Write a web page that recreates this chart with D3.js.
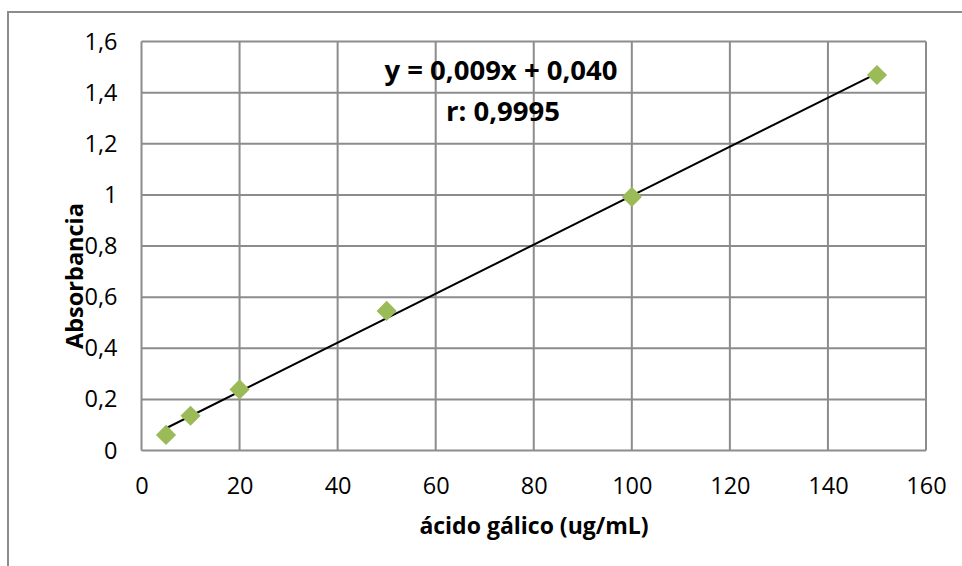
<!DOCTYPE html>
<html>
<head>
<meta charset="utf-8">
<script src="https://cdn.jsdelivr.net/npm/d3@7"></script>
<style>
    body { margin: 0; background: #fff; }
    svg { display: block; font-family: "Open Sans", sans-serif; }
</style>
</head>
<body>
<div id="chart"></div>
<script>
// valores
var concentracion = [5, 10, 20, 50, 100, 150];
var absorbancia = [0.061, 0.136, 0.239, 0.546, 0.992, 1.469];
var xTicks = [0, 20, 40, 60, 80, 100, 120, 140, 160];
var yTicks = [0, 0.2, 0.4, 0.6, 0.8, 1, 1.2, 1.4, 1.6];
var ecuacion = 'y = 0,009x + 0,040';
var coefR = 'r: 0,9995';

var W = 962, H = 566;
var margin = {left: 141.5, top: 41.5, right: 962 - 926, bottom: 566 - 450.5};

var svg = d3.select('#chart').append('svg')
    .attr('width', W)
    .attr('height', H);

// marco exterior
svg.append('rect')
    .attr('x', 8).attr('y', 12)
    .attr('width', W + 10).attr('height', H)
    .attr('fill', 'none')
    .attr('stroke', '#8c8c8c')
    .attr('stroke-width', 2);

var x = d3.scaleLinear().domain([0, 160]).range([margin.left, W - margin.right]);
var y = d3.scaleLinear().domain([0, 1.6]).range([H - margin.bottom, margin.top]);
var coma = d => String(d).replace('.', ',');

// rejilla
var grid = svg.append('g').attr('stroke', '#8c8c8c').attr('stroke-width', 2);
grid.selectAll('line.v').data(xTicks).enter().append('line')
    .attr('class', 'v')
    .attr('x1', d => x(d)).attr('x2', d => x(d))
    .attr('y1', y(0)).attr('y2', y(1.6));
grid.selectAll('line.h').data(yTicks).enter().append('line')
    .attr('class', 'h')
    .attr('x1', x(0)).attr('x2', x(160))
    .attr('y1', d => y(d)).attr('y2', d => y(d));

// ejes (solo etiquetas)
var xAxis = svg.append('g')
    .attr('transform', `translate(0, ${y(0)})`)
    .call(d3.axisBottom(x).tickValues(xTicks).tickFormat(coma).tickSize(0).tickPadding(27));
var yAxis = svg.append('g')
    .attr('transform', `translate(${x(0)}, 0)`)
    .call(d3.axisLeft(y).tickValues(yTicks).tickFormat(coma).tickSize(0).tickPadding(24));
[xAxis, yAxis].forEach(a => {
    a.select('.domain').remove();
    a.selectAll('text')
        .attr('font-family', '"Open Sans", sans-serif')
        .attr('font-size', 23.5)
        .attr('fill', '#000');
});

// recta de regresión
var mx = d3.mean(concentracion), my = d3.mean(absorbancia);
var sxy = d3.sum(concentracion, (c, i) => (c - mx) * (absorbancia[i] - my));
var sxx = d3.sum(concentracion, c => (c - mx) * (c - mx));
var pendiente = sxy / sxx;
var corte = my - pendiente * mx;
var extremos = d3.extent(concentracion);

svg.append('path')
    .datum(extremos)
    .attr('fill', 'none')
    .attr('stroke', '#000')
    .attr('stroke-width', 2)
    .attr('d', d3.line().x(d => x(d)).y(d => y(pendiente * d + corte)));

// puntos
svg.selectAll('path.punto')
    .data(concentracion)
    .enter()
    .append('path')
    .attr('class', 'punto')
    .attr('transform', (d, i) => `translate(${x(d)}, ${y(absorbancia[i])})`)
    .attr('d', d3.symbol().type(d3.symbolDiamond2).size(260))
    .attr('fill', '#9bbb59');

// ecuación
svg.append('text')
    .attr('x', 501).attr('y', 80)
    .attr('text-anchor', 'middle')
    .attr('font-weight', 'bold')
    .attr('font-size', 27.5)
    .text(ecuacion);
svg.append('text')
    .attr('x', 503).attr('y', 121)
    .attr('text-anchor', 'middle')
    .attr('font-weight', 'bold')
    .attr('font-size', 27.5)
    .text(coefR);

// títulos de ejes
svg.append('text')
    .attr('x', 534).attr('y', 534)
    .attr('text-anchor', 'middle')
    .attr('font-weight', 'bold')
    .attr('font-size', 23)
    .text('ácido gálico (ug/mL)');
svg.append('text')
    .attr('transform', 'translate(83, 276) rotate(-90)')
    .attr('text-anchor', 'middle')
    .attr('font-weight', 'bold')
    .attr('font-size', 23.5)
    .text('Absorbancia');
</script>
</body>
</html>
